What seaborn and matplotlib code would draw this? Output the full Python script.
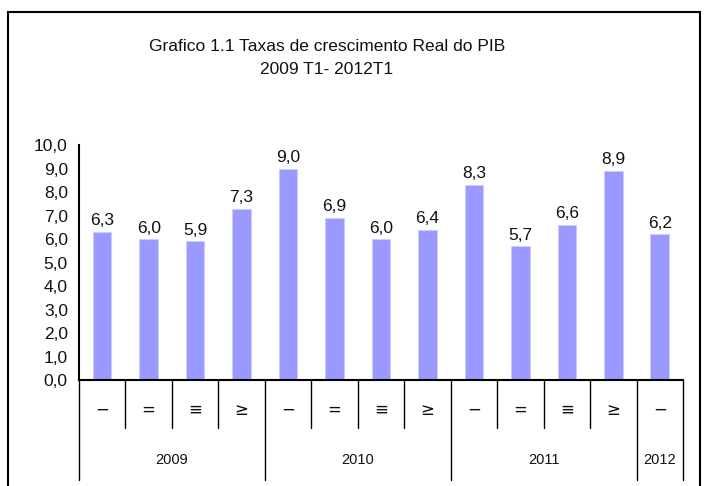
import matplotlib
matplotlib.use("Agg")
import matplotlib.pyplot as plt
import matplotlib.transforms as mtransforms
from matplotlib.patches import Rectangle
import pandas as pd
import seaborn as sns

# data
years = ["2009", "2009", "2009", "2009", "2010", "2010", "2010", "2010",
         "2011", "2011", "2011", "2011", "2012"]
quarters = ["T1", "T2", "T3", "T4", "T1", "T2", "T3", "T4",
            "T1", "T2", "T3", "T4", "T1"]
quarter_glyphs = {"T1": "\u2212", "T2": "=", "T3": "\u2261", "T4": "\u2265"}
growth = [6.3, 6.0, 5.9, 7.3, 9.0, 6.9, 6.0, 6.4, 8.3, 5.7, 6.6, 8.9, 6.2]
year_labels = ["2009", "2010", "2011", "2012"]

sns.set_theme(style="white")
plt.rcParams["font.family"] = ["Liberation Sans", "DejaVu Sans"]
plt.rcParams["text.color"] = "#111111"

df = pd.DataFrame({"period": [f"{y} {q}" for y, q in zip(years, quarters)],
                   "year": years, "quarter": quarters, "growth": growth})

fig = plt.figure(figsize=(7.07, 4.86), dpi=100)
ax = fig.add_axes([0.1117, 0.218, 0.8543, 0.4835])

sns.barplot(data=df, x="period", y="growth", color="#9999FF", saturation=1,
            width=0.4, edgecolor="#ccccff", linewidth=0.8, ax=ax)

for i, v in enumerate(df["growth"]):
    ax.text(i, v + 0.15, f"{v:.1f}".replace(".", ","), ha="center", va="bottom",
            fontsize=12.5)

ax.set_ylim(0, 10)
ax.set_xlim(-0.5, len(df) - 0.5)
ax.set_yticks(range(0, 11))
ax.set_yticklabels([f"{t:.1f}".replace(".", ",") for t in range(0, 11)],
                   fontsize=12.5, color="#111111")
ax.set_xticks([])
ax.set_xlabel("")
ax.set_ylabel("")
ax.tick_params(axis="y", direction="out", length=5, width=1, color="black", pad=3)
for s in ("top", "right"):
    ax.spines[s].set_visible(False)
for s in ("left", "bottom"):
    ax.spines[s].set_color("black")
    ax.spines[s].set_linewidth(1.5)

# category-axis separators and labels below the plot
trans = mtransforms.blended_transform_factory(ax.transData, ax.transAxes)
px = 1 / (ax.get_position().height * fig.bbox.height)
n = len(df)
for b in range(n + 1):
    is_year = b == 0 or b == n or years[b] != years[b - 1]
    depth = 100 if is_year else 48
    ax.plot([b - 0.5, b - 0.5], [0, -depth * px], transform=trans,
            color="black", lw=1, clip_on=False)
for i, q in enumerate(quarters):
    ax.text(i, -30 * px, quarter_glyphs[q], transform=trans, ha="center",
            va="center", fontsize=12, family=["DejaVu Sans"])
for y in year_labels:
    idx = [i for i, yy in enumerate(years) if yy == y]
    ax.text((idx[0] + idx[-1]) / 2, -80 * px, y, transform=trans,
            ha="center", va="center", fontsize=10.5)

fig.text(0.462, 0.905, "Grafico 1.1 Taxas de crescimento Real do PIB",
         ha="center", va="center", fontsize=12.5)
fig.text(0.462, 0.858, "2009 T1- 2012T1", ha="center", va="center", fontsize=12.5)

fig.patches.append(Rectangle((8 / 707, -0.05), 692 / 707, 1.05 - 12 / 486,
                             transform=fig.transFigure, fill=False,
                             edgecolor="black", lw=1.5))

fig.savefig("out.png", dpi=100)
